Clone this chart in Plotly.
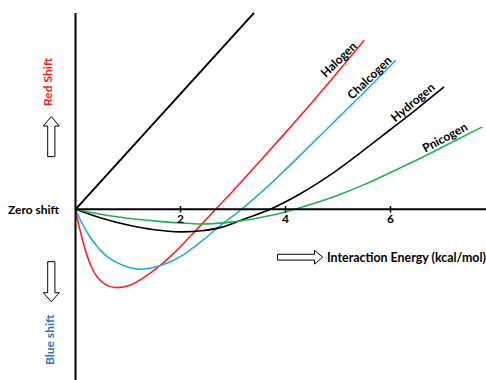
import plotly.graph_objects as go

# ---------------- data ----------------
halogen_x = [0, 0.04, 0.1, 0.2, 0.3, 0.4, 0.55, 0.75, 1.05, 1.3, 1.55, 1.85, 2.2, 2.67, 3.0, 3.5, 4.0, 4.5, 5.0, 5.5]
halogen_y = [0, -0.2, -0.45, -0.82, -1.09, -1.27, -1.42, -1.49, -1.44, -1.3, -1.12, -0.86, -0.5, 0, 0.35, 0.9, 1.46, 2.03, 2.62, 3.22]

chalcogen_x = [0, 0.12, 0.3, 0.45, 0.6, 0.89, 1.2, 1.52, 1.85, 2.15, 2.45, 2.76, 3.16, 3.59, 4.2, 4.86, 5.37, 6.1]
chalcogen_y = [0, -0.26, -0.56, -0.75, -0.9, -1.06, -1.14, -1.1, -0.98, -0.8, -0.57, -0.31, 0, 0.37, 0.95, 1.6, 2.1, 2.84]

hydrogen_x = [0, 0.5, 1.0, 1.5, 2.0, 2.4, 2.83, 3.2, 3.71, 4.29, 4.86, 5.43, 6.0, 6.5, 7.02]
hydrogen_y = [0, -0.17, -0.3, -0.39, -0.43, -0.41, -0.33, -0.19, 0, 0.3, 0.66, 1.08, 1.52, 1.91, 2.33]

pnicogen_x = [0, 0.5, 1.0, 1.5, 2.0, 2.4, 3.0, 3.5, 4.0, 4.5, 5.0, 5.5, 6.0, 6.5, 7.0, 7.75]
pnicogen_y = [0, -0.1, -0.17, -0.22, -0.26, -0.28, -0.24, -0.16, -0.05, 0.1, 0.27, 0.47, 0.7, 0.94, 1.19, 1.57]

reference_x = [0, 3.4]
reference_y = [0, 3.74]

tick_vals = [2, 4, 6]
tick_labels = ["2", "4", "6"]

series_names = ["Halogen", "Chalcogen", "Hydrogen", "Pnicogen"]

# ---------------- geometry helpers ----------------
W, H = 486, 380
X0_PX, Y0_PX, UNIT = 75.5, 209.3, 52.5
X_RANGE = [-X0_PX / UNIT, (W - X0_PX) / UNIT]
Y_RANGE = [-(H - Y0_PX) / UNIT, Y0_PX / UNIT]


def dx(px):
    return (px - X0_PX) / UNIT


def dy(py):
    return (Y0_PX - py) / UNIT


def path(points):
    return "M " + " L ".join(f"{dx(a):.4f},{dy(b):.4f}" for a, b in points) + " Z"


FONT = "Lato, 'Open Sans', sans-serif"
RED = "#ff2020"
BLUE = "#2aa9e0"
GREEN = "#22b14c"

fig = go.Figure()

fig.add_trace(go.Scatter(x=reference_x, y=reference_y, mode="lines",
                         line=dict(color="black", width=2), hoverinfo="skip"))
for xs, ys, col in [
    (halogen_x, halogen_y, RED),
    (chalcogen_x, chalcogen_y, BLUE),
    (hydrogen_x, hydrogen_y, "black"),
    (pnicogen_x, pnicogen_y, GREEN),
]:
    fig.add_trace(go.Scatter(x=xs, y=ys, mode="lines",
                             line=dict(color=col, width=1.6, shape="spline", smoothing=1.0),
                             hoverinfo="skip"))

# tick labels
fig.add_trace(go.Scatter(x=tick_vals, y=[dy(219.5)] * len(tick_vals), mode="text",
                         text=tick_labels,
                         textfont=dict(family=FONT, size=12, color="black", weight="bold"),
                         hoverinfo="skip"))

shapes = []
# axes
shapes.append(dict(type="line", xref="x", yref="y", x0=0, x1=0, y0=Y_RANGE[0] - 0.1, y1=dy(13),
                   line=dict(color="black", width=2)))
shapes.append(dict(type="line", xref="x", yref="y", x0=0, x1=X_RANGE[1] + 0.1, y0=0, y1=0,
                   line=dict(color="black", width=2)))
for t in tick_vals:
    shapes.append(dict(type="line", xref="x", yref="y", x0=t, x1=t, y0=dy(206), y1=dy(212.5),
                       line=dict(color="black", width=1.5)))

# hollow arrows
arrow_style = dict(type="path", xref="x", yref="y", fillcolor="white",
                   line=dict(color="black", width=1))
up = [(47.7, 156.7), (47.7, 126), (43.3, 126), (51.3, 116.7), (59.3, 126), (54.9, 126), (54.9, 156.7)]
down = [(47.7, 261.7), (47.7, 292.7), (43.3, 292.7), (51.3, 301.7), (59.3, 292.7), (54.9, 292.7), (54.9, 261.7)]
right = [(277.5, 254.3), (314.5, 254.3), (314.5, 250.3), (322.7, 257.2), (314.5, 264.1), (314.5, 260.1), (277.5, 260.1)]
for pts in (up, down, right):
    shapes.append(dict(path=path(pts), **arrow_style))

annotations = []


def label(text, px, py, angle=0, color="black", size=12, xanchor="center"):
    annotations.append(dict(text=text, x=dx(px), y=dy(py), xref="x", yref="y",
                            showarrow=False, textangle=angle, xanchor=xanchor, yanchor="middle",
                            font=dict(family=FONT, size=size, color=color, weight="bold")))


label("Zero shift", 62, 209.5, xanchor="right")
label("Red Shift", 47, 82, angle=-90, color="#ff1a1a")
label("Blue shift", 49, 340, angle=-90, color="#2e75b6")
label("Interaction Energy (kcal/mol)", 325, 257.7, xanchor="left", size=12.4)
label(series_names[0], 338, 59, angle=-44)
label(series_names[1], 369, 77, angle=-44)
label(series_names[2], 412, 102, angle=-40)
label(series_names[3], 444, 137, angle=-28)

fig.update_layout(
    width=W, height=H,
    margin=dict(l=0, r=0, t=0, b=0),
    paper_bgcolor="white", plot_bgcolor="white",
    showlegend=False,
    xaxis=dict(range=X_RANGE, visible=False, fixedrange=True),
    yaxis=dict(range=Y_RANGE, visible=False, fixedrange=True),
    shapes=shapes, annotations=annotations,
)

fig.write_html("out.html", config={"displayModeBar": False},
               post_script="document.body.style.margin='0';document.body.style.padding='0';")
